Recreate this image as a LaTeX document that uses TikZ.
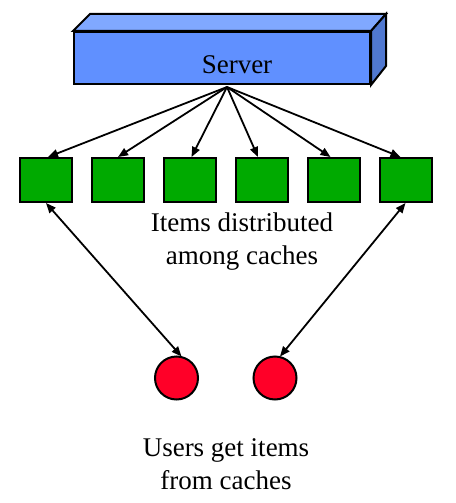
\documentclass[tikz,border=0pt]{standalone}
\usepackage{fontspec}
\setmainfont{Liberation Serif}
\usetikzlibrary{arrows.meta}
\definecolor{srvfront}{RGB}{96,144,255}
\definecolor{srvtop}{RGB}{128,168,255}
\definecolor{srvside}{RGB}{80,120,208}
\definecolor{cachegreen}{RGB}{0,170,0}
\definecolor{userred}{RGB}{255,0,40}
\tikzset{
  edge/.style={line width=2pt, draw=black},
  face/.style={edge, line join=miter},
  cachebox/.style={draw=black, line width=2pt, fill=cachegreen, minimum width=52pt, minimum height=44pt, inner sep=0pt},
  userdot/.style={circle, draw=black, line width=2pt, fill=userred, minimum size=43pt, inner sep=0pt},
  lbl/.style={font=\fontsize{27}{33}\selectfont, align=center, inner sep=0pt},
  arr/.style={line width=1.8pt, -{Triangle[length=10pt,width=8pt]}},
  darr/.style={line width=1.8pt, {Triangle[length=10pt,width=8pt]}-{Triangle[length=10pt,width=8pt]}}
}
\begin{document}
\begin{tikzpicture}[x=1pt,y=-1pt]
\useasboundingbox (0,0) rectangle (455,503);
% server box
\node[draw=black, line width=2pt, fill=srvfront, minimum width=296pt, minimum height=52pt, inner sep=0pt] (server) at (222,58) {};
\draw[face, fill=srvtop] (server.north west) -- ++(17,-17) -- ++(296,0) -- (server.north east) -- cycle;
\draw[face, fill=srvside] (server.north east) -- ++(15,-17) -- ++(0,52) -- (server.south east) -- cycle;
\node[lbl] (servertext) at (237,65) {Server};
\coordinate (hub) at (227,87);
% caches
\foreach \i/\x in {1/46,2/118,3/189.5,4/262,5/333.5,6/405.5}{
  \node[cachebox] (c\i) at (\x,180) {};
}
\draw[arr] (hub) -- ([xshift=2pt]c1.north);
\draw[arr] (hub) -- ([xshift=0pt]c2.north);
\draw[arr] (hub) -- ([xshift=2pt]c3.north);
\draw[arr] (hub) -- ([xshift=-4pt]c4.north);
\draw[arr] (hub) -- ([xshift=-3pt]c5.north);
\draw[arr] (hub) -- ([xshift=-5pt]c6.north);
\node[lbl] (itemtext) at (242,242) {Items distributed\\ among caches};
% users
\node[userdot] (u1) at (176.5,378) {};
\node[userdot] (u2) at (275,378) {};
\draw[darr] (c1.south) -- ([xshift=5pt,yshift=-1pt]u1.north);
\draw[darr] (c6.south) -- ([xshift=5pt,yshift=-1pt]u2.north);
\node[lbl] (usertext) at (226,464) {Users get items\\ from caches};
\end{tikzpicture}
\end{document}
